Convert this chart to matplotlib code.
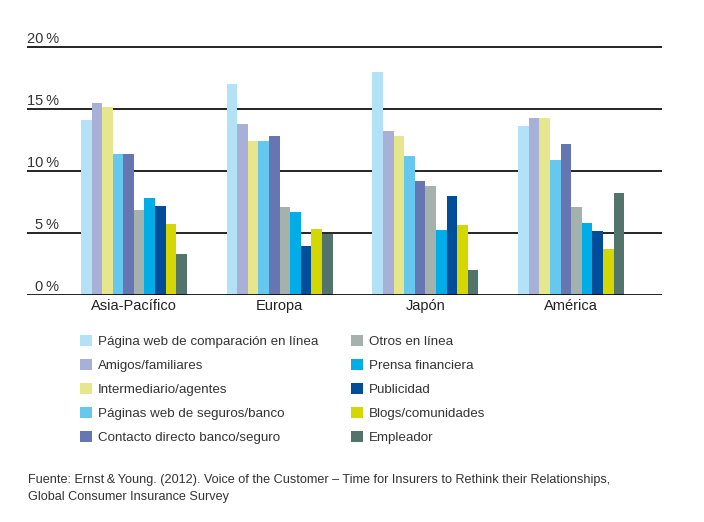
import numpy as np
import matplotlib.pyplot as plt
from matplotlib.transforms import blended_transform_factory

plt.rcParams['font.family'] = ['Liberation Sans', 'DejaVu Sans']

regions = ["Asia-Pacífico", "Europa", "Japón", "América"]
series = [
    "Página web de comparación en línea",
    "Amigos/familiares",
    "Intermediario/agentes",
    "Páginas web de seguros/banco",
    "Contacto directo banco/seguro",
    "Otros en línea",
    "Prensa financiera",
    "Publicidad",
    "Blogs/comunidades",
    "Empleador",
]
comparacion = [14.1, 17.0, 18.0, 13.6]
amigos = [15.5, 13.8, 13.2, 14.3]
intermediario = [15.2, 12.4, 12.8, 14.3]
web_seguros = [11.4, 12.4, 11.2, 10.9]
contacto = [11.4, 12.8, 9.2, 12.2]
otros = [6.85, 7.1, 8.8, 7.1]
prensa = [7.8, 6.7, 5.25, 5.8]
publicidad = [7.2, 3.95, 8.0, 5.15]
blogs = [5.7, 5.3, 5.65, 3.7]
empleador = [3.3, 4.95, 2.0, 8.2]
values = [comparacion, amigos, intermediario, web_seguros, contacto,
          otros, prensa, publicidad, blogs, empleador]
colors = ["#b3e1f5", "#a9b0d7", "#e6e78c", "#66c8ee", "#6676b3",
          "#a5b1ad", "#00ade6", "#004d99", "#d4d700", "#52746b"]
yticks = [0, 5, 10, 15, 20]

fig = plt.figure(figsize=(7.04, 5.22), dpi=100)
ax = fig.add_axes([27/704, 1 - 295/522, 635/704, (295 - 34.6)/522])

x = np.arange(len(regions))
w = 0.0726
for i, (name, vals, c) in enumerate(zip(series, values, colors)):
    ax.bar(x + (i - 4.5) * w, vals, width=w, color=c, label=name, linewidth=0)

ax.set_xlim(-0.733, 3.623)
ax.set_ylim(0, 21)
for t in yticks:
    ax.axhline(t, color="black", linewidth=1.2, zorder=0 if t else 3)

# percent labels sit just above each gridline
trans = blended_transform_factory(fig.transFigure, ax.transData)
for t in yticks:
    ax.text(59/704, t + 0.33, f"{t}\u2009%", transform=trans, ha="right", va="baseline",
            fontsize=10.5, color="#333333")

for s in ax.spines.values():
    s.set_visible(False)
ax.set_yticks([])
ax.set_xticks(x)
ax.set_xticklabels(regions, fontsize=10.5, color="#222222")
ax.tick_params(axis="x", length=0, pad=3)

fig.legend(loc="upper left", bbox_to_anchor=(68/704, 1 - 323/522), ncol=2,
           frameon=False, fontsize=9.6, handlelength=0.9, handleheight=0.9,
           handletextpad=0.45, labelspacing=0.82, columnspacing=2.45,
           labelcolor="#333333")

fig.text(28/704, 1 - 488.5/522,
         "Fuente: Ernst\u2009&\u2009Young. (2012). Voice of the Customer \u2013 Time for Insurers to Rethink their Relationships,\nGlobal Consumer Insurance Survey",
         fontsize=9.1, color="#333333", va="center", linespacing=1.5)

fig.savefig("out.png", dpi=100)
